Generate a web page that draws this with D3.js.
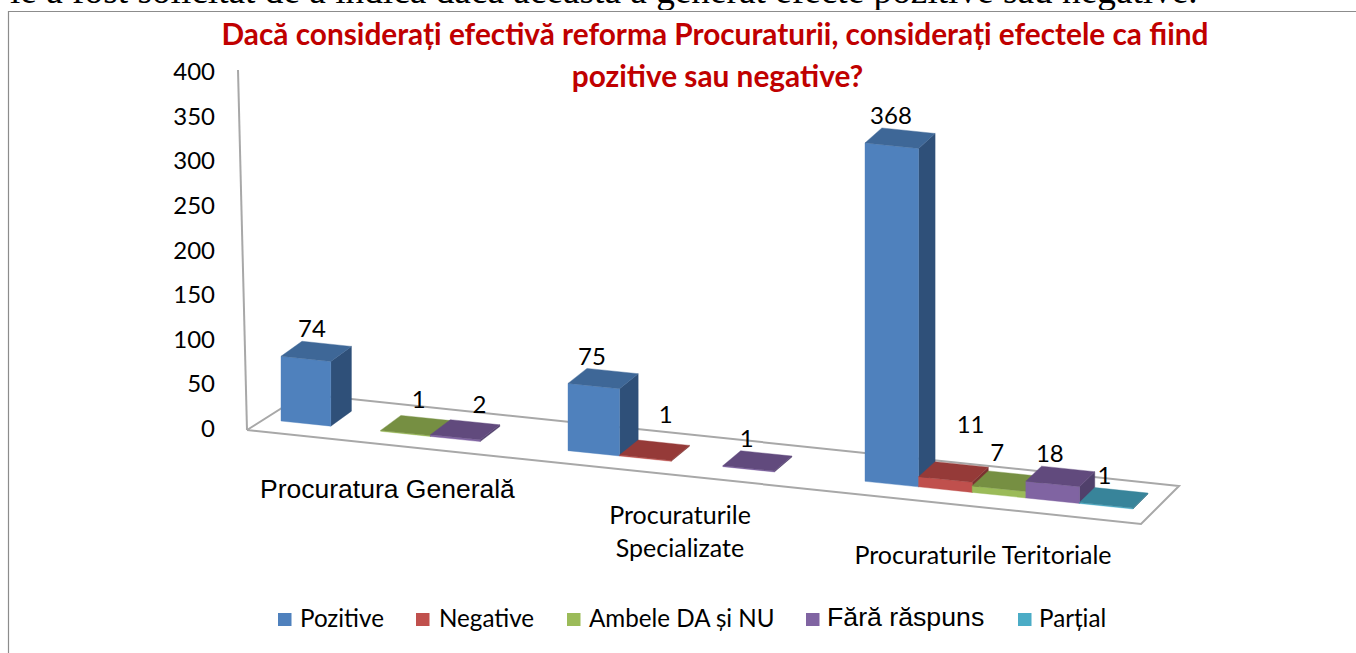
<!DOCTYPE html>
<html><head><meta charset="utf-8">
<script src="https://cdn.jsdelivr.net/npm/d3@7/dist/d3.min.js"></script>
<style>html,body{margin:0;padding:0;background:#fff;overflow:hidden}svg{display:block}</style>
</head><body><svg id="c" width="1356" height="653"></svg>
<script>
const categories = ["Procuratura Generală", "Procuraturile Specializate", "Procuraturile Teritoriale"];
const seriesNames = ["Pozitive", "Negative", "Ambele DA și NU", "Fără răspuns", "Parțial"];
const pozitive = [74, 75, 368];
const negative = [null, 1, 11];
const ambele = [1, null, 7];
const faraRaspuns = [2, 1, 18];
const partial = [null, null, 1];
const seriesValues = [pozitive, negative, ambele, faraRaspuns, partial];
const yTicks = [0, 50, 100, 150, 200, 250, 300, 350, 400];
const frontColors = ["#4F81BD", "#C0504D", "#9BBB59", "#8064A2", "#4BACC6"];
const topColors = ["#3E6797", "#953A38", "#768F42", "#614A7D", "#38849A"];
const sideColors = ["#2F5079", "#7A3230", "#5E7537", "#50406B", "#2B6B7D"];

const svg = d3.select("#c");
const BODY = "Lato, 'Open Sans', sans-serif";
const ARIAL = "'Liberation Sans', Arial, sans-serif";
const SERIF = "'Liberation Serif', 'Times New Roman', serif";

const slotX = d3.scaleLinear().domain([0, 5, 5.65, 10.65, 11.3, 16.3]).range([281, 530, 568, 826, 865, 1133]);
const baseY = d3.scaleLinear().domain([281, 1133]).range([421, 509]);
const depthX = d3.scaleLinear().domain([281, 1133]).range([21, 15]);
const depthY = -15;
const unit = d3.scaleLinear().domain([281, 1133]).range([0.875, 0.94]);
const axisY = d3.scaleLinear().domain([0, 400]).range([428, 71]);
const slot = (c, s) => [0, 5.65, 11.3][c] + s;

// surrounding document text and chart frame
svg.append("text").attr("x", 10).attr("y", 3).attr("font-family", SERIF).attr("font-size", 37.3)
  .attr("fill", "#000").text("le a fost solicitat de a indica dacă aceasta a generat efecte pozitive sau negative.");
svg.append("rect").attr("x", 0).attr("y", 10).attr("width", 1356).attr("height", 643).attr("fill", "#fff");
svg.append("path").attr("d", "M8.5,653V11.5H1356").attr("fill", "none").attr("stroke", "#8C8C8C").attr("stroke-width", 1.2);

// title
const title = svg.append("text").attr("text-anchor", "middle").attr("font-family", BODY)
  .attr("font-weight", 700).attr("font-size", 29.8).attr("fill", "#C00000");
title.append("tspan").attr("x", 715).attr("y", 45).text("Dacă considerați efectivă reforma Procuraturii, considerați efectele ca fiind");
title.append("tspan").attr("x", 717.5).attr("y", 87).text("pozitive sau negative?");

// y axis
svg.append("g").selectAll("text").data(yTicks).join("text")
  .attr("x", 215).attr("y", d => axisY(d) + 9).attr("text-anchor", "end")
  .attr("font-family", BODY).attr("font-size", 24).attr("fill", "#000").text(d => d);

// floor and wall lines
const line = d3.line();
const frame = [[[238, 70], [247, 430]], [[247, 430], [1141, 524], [1179, 486], [304, 394], [247, 430]]];
svg.append("g").selectAll("path").data(frame).join("path")
  .attr("d", d => line(d)).attr("fill", "none").attr("stroke", "#A8A8A8").attr("stroke-width", 2);

// bars
const bars = [];
seriesValues.forEach((vals, s) => vals.forEach((v, c) => { if (v != null) bars.push({c, s, v}); }));
bars.sort((a, b) => (a.c - b.c) || (a.s - b.s));
const barG = svg.append("g");
bars.forEach(b => {
  const x0 = slotX(slot(b.c, b.s)), x1 = slotX(slot(b.c, b.s + 1));
  const y0 = baseY(x0), y1 = baseY(x1);
  const h = b.v * unit(x0);
  const dx0 = depthX(x0), dx1 = depthX(x1);
  const g = barG.append("g");
  const poly = (pts, fill) => g.append("path").attr("d", line(pts) + "Z").attr("fill", fill)
     .attr("stroke", fill).attr("stroke-width", 0.4);
  poly([[x1, y1], [x1 + dx1, y1 + depthY], [x1 + dx1, y1 + depthY - h], [x1, y1 - h]], sideColors[b.s]);
  poly([[x0, y0], [x1, y1], [x1, y1 - h], [x0, y0 - h]], frontColors[b.s]);
  poly([[x0, y0 - h], [x1, y1 - h], [x1 + dx1, y1 + depthY - h], [x0 + dx0, y0 + depthY - h]], topColors[b.s]);
  b.x0 = x0; b.top = y0 - h;
});

// data labels
const nudges = {"0-0": [7, 0], "2-0": [14, -3], "3-0": [25, -3], "1-1": [22, -13], "1-2": [28, -25], "2-2": [1, -6], "0-1": [0, 1], "4-2": [1, 0], "0-2": [2, 0]};
svg.append("g").selectAll("text").data(bars).join("text")
  .attr("text-anchor", "middle").attr("font-family", BODY).attr("font-size", 24).attr("fill", "#000")
  .attr("x", b => b.x0 + 24 + (nudges[b.s + "-" + b.c] || [0, 0])[0])
  .attr("y", b => b.top - 19 + (nudges[b.s + "-" + b.c] || [0, 0])[1])
  .text(b => b.v);

// category labels
svg.append("text").attr("x", 260).attr("y", 498).attr("font-family", ARIAL).attr("font-size", 26.5).text(categories[0]);
const c2 = categories[1].split(" ");
svg.append("text").attr("x", 680).attr("y", 524).attr("text-anchor", "middle").attr("font-family", BODY).attr("font-size", 25).text(c2[0]);
svg.append("text").attr("x", 680).attr("y", 557).attr("text-anchor", "middle").attr("font-family", BODY).attr("font-size", 25).text(c2[1]);
svg.append("text").attr("x", 983).attr("y", 564).attr("text-anchor", "middle").attr("font-family", BODY).attr("font-size", 25).text(categories[2]);

// legend
const legendSwatch = [278, 416, 567, 806, 1018];
const legendText = [300, 439, 589, 827, 1039];
const lg = svg.append("g");
seriesNames.forEach((n, i) => {
  lg.append("rect").attr("x", legendSwatch[i]).attr("y", 613).attr("width", 13.5).attr("height", 13).attr("fill", frontColors[i]);
  lg.append("text").attr("x", legendText[i]).attr("y", i === 3 ? 626 : 627)
    .attr("font-family", i === 3 ? ARIAL : BODY).attr("font-size", i === 3 ? 26.7 : 24.2).attr("fill", "#000").text(n);
});
</script></body></html>
